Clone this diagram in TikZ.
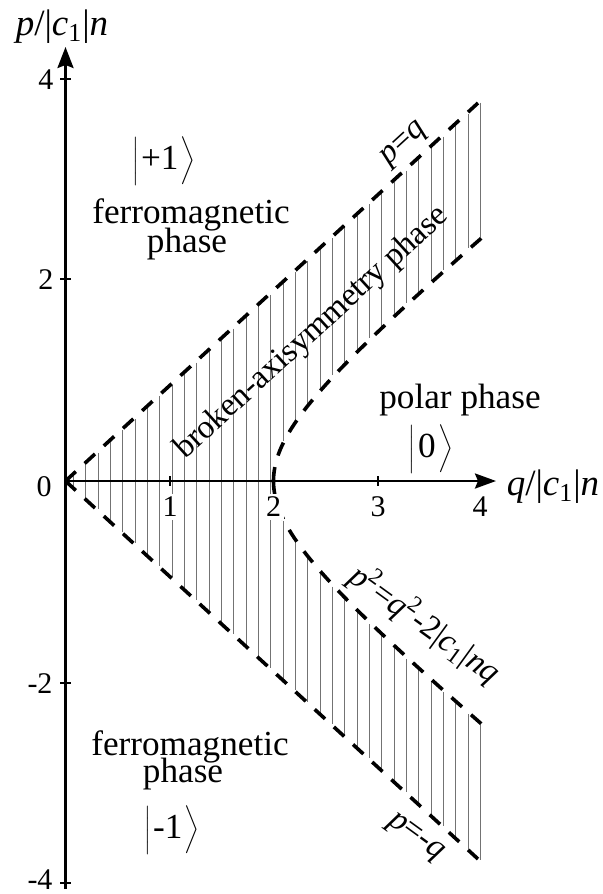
\documentclass[tikz,border=0pt]{standalone}
\usepackage{fontspec}
\setmainfont{Liberation Serif}
\usetikzlibrary{arrows.meta}
\newcommand{\myket}[1]{$\left|\rule[-5.5pt]{0pt}{21.5pt}\right.$#1$\left.\rule[-5.5pt]{0pt}{21.5pt}\right\rangle$}
\begin{document}
\begin{tikzpicture}[x=0.5pt,y=-0.5pt,
  axisline/.style={line width=1.3pt},
  tickline/.style={line width=0.8pt},
  bnd/.style={line width=1.8pt, dash pattern=on 7pt off 6pt},
  hatchline/.style={line width=0.55pt, black!55},
  lbl/.style={font=\fontsize{17.6}{20}\selectfont, inner sep=0pt},
  numlbl/.style={font=\fontsize{15}{17}\selectfont, inner sep=0pt},
  xnum/.style={numlbl, fill=white, inner sep=1.5pt},
  axlbl/.style={font=\fontsize{18.5}{21}\selectfont, inner sep=0pt},
  rotlbl/.style={font=\fontsize{16.5}{18}\selectfont, inner sep=0pt},
]
\useasboundingbox (0,0) rectangle (603,894);
% key points
\coordinate (O) at (65.5,481);
\coordinate (U) at (478,103);
\coordinate (L) at (478,859);
\coordinate (V) at (273.5,481);
\coordinate (Ytop) at (65.5,47);
\coordinate (Ybot) at (65.5,889);
\coordinate (Xend) at (496,481);

% hatching
\foreach \k in {0,...,33} {
  \pgfmathsetmacro\xx{73.6+12.33*\k}
  \pgfmathsetmacro\dq{\xx-65.5}
  \pgfmathsetmacro\ytop{481-0.9164*\dq+2}
  \pgfmathsetmacro\ybot{481+0.919*\dq-2}
  \pgfmathsetmacro\qq{\dq/104}
  \pgfmathtruncatemacro\split{\xx>272 ? 1 : 0}
  \ifnum\split=1
    \pgfmathsetmacro\hh{85.9*sqrt(max(\qq*\qq-2*\qq,0))}
    \draw[hatchline] (\xx,\ytop) -- (\xx,481-\hh-2);
    \draw[hatchline] (\xx,481+\hh+2) -- (\xx,\ybot);
  \else
    \draw[hatchline] (\xx,\ytop) -- (\xx,\ybot);
  \fi
}

% phase boundaries
\draw[bnd] (O) -- (U);
\draw[bnd] (O) -- (L);
\draw[bnd] plot[domain=0:1.7627, samples=60, variable=\t]
  ({65.5+104*(1+cosh(\t))},{481-85.9*sinh(\t)});
\draw[bnd] plot[domain=0:1.7627, samples=60, variable=\t]
  ({65.5+104*(1+cosh(\t))},{481+85.9*sinh(\t)});

% axes
\draw[axisline,-{Stealth[length=10.5pt,width=8pt,inset=1.5pt]}] (Ybot) -- (Ytop);
\draw[axisline,-{Stealth[length=10.5pt,width=7.5pt,inset=1.5pt]}] (O) -- (Xend);

% ticks
\foreach \yy in {79,279,683,883} \draw[tickline] (60,\yy) -- (71,\yy);
\foreach \xx in {170,273.5,378,481} \draw[tickline] (\xx,476) -- (\xx,486);

% tick labels
\node[numlbl] (y4) at (46,80) {4};
\node[numlbl] (y2) at (46,280) {2};
\node[numlbl] (y0) at (44,487) {0};
\node[numlbl] (ym2) at (40,684) {-2};
\node[numlbl] (ym4) at (40,880) {-4};
\node[xnum] (x1) at (170,507) {1};
\node[xnum] (x2) at (273.5,507) {2};
\node[xnum] (x3) at (378,507) {3};
\node[xnum] (x4) at (480,507) {4};

% axis labels
\node[axlbl] (ylab) at (62,27) {\textit{p}/|\textit{c}\textsubscript{1}|\textit{n}};
\node[axlbl] (xlab) at (553,487) {\textit{q}/|\textit{c}\textsubscript{1}|\textit{n}};

% region labels
\node[lbl] (plus1) at (164,161) {\myket{+1}};
\node[lbl,anchor=base] (fm1) at (191,223) {ferromagnetic};
\node[lbl,anchor=base] (ph1) at (187,252) {phase};
\node[lbl,anchor=base] (fm2) at (190,755) {ferromagnetic};
\node[lbl,anchor=base] (ph2) at (183,782) {phase};
\node[lbl] (minus1) at (172,830) {\myket{-1}};
\node[lbl,anchor=base] (polar) at (460,408) {polar phase};
\node[lbl] (zero) at (431,449) {\myket{0}};

% rotated labels
\node[rotlbl,rotate=42.5] (bap) at (312,333) {broken-axisymmetry phase};
\node[rotlbl,rotate=42.5] (pq) at (405,145) {\textit{p}=\textit{q}};
\node[rotlbl,rotate=-36] (hyp) at (425,624)
  {\textit{p}\textsuperscript{2}=\textit{q}\textsuperscript{2}-2|\textit{c}\textsubscript{1}|\textit{nq}};
\node[rotlbl,rotate=-36] (pmq) at (415,838) {\textit{p}=-\textit{q}};
\end{tikzpicture}
\end{document}
